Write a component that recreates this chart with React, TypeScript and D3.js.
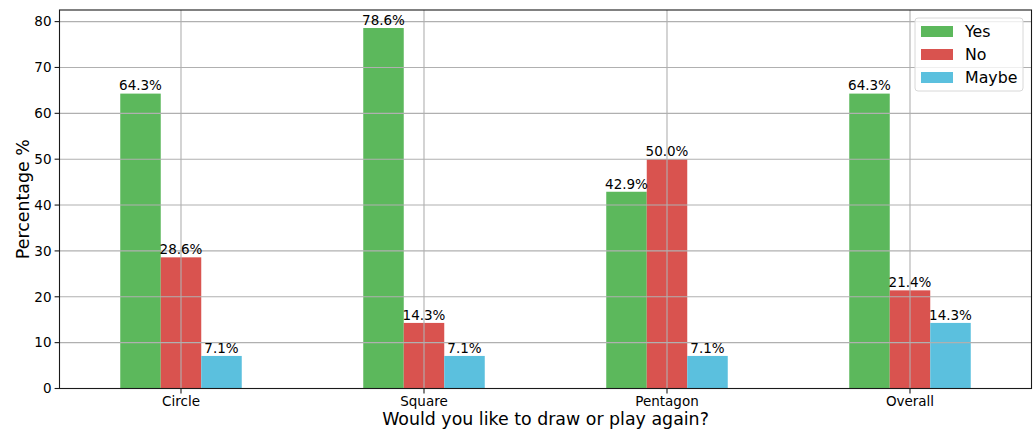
import React from "react";
import * as d3 from "d3";

const categories = ["Circle", "Square", "Pentagon", "Overall"];
const seriesNames = ["Yes", "No", "Maybe"];
const yesValues = [64.3, 78.6, 42.9, 64.3];
const noValues = [28.6, 14.3, 50.0, 21.4];
const maybeValues = [7.1, 7.1, 7.1, 14.3];
const yTicks = [0, 10, 20, 30, 40, 50, 60, 70, 80];
const colors = ["#5cb85c", "#d9534f", "#5bc0de"];

const W = 1036;
const H = 430;
const M = { left: 59.5, right: 1031.5, top: 10, bottom: 388.5 };
const FONT = "DejaVu Sans, sans-serif";

export default function App() {
  const series = [yesValues, noValues, maybeValues];
  const x = d3.scaleLinear().domain([-0.5, categories.length - 0.5]).range([M.left, M.right]);
  const maxV = d3.max(series.flat()) as number;
  const y = d3.scaleLinear().domain([0, maxV * 1.05]).range([M.bottom, M.top]);
  const bw = 0.5 / series.length;

  return (
    <svg width={W} height={H} style={{ position: "absolute", left: 0, top: 0, background: "#fff" }} fontFamily={FONT}>
      {series.map((vals, si) =>
        vals.map((v, ci) => {
          const x0 = x(ci - 0.25 + si * bw);
          const x1 = x(ci - 0.25 + (si + 1) * bw);
          return (
            <rect key={`b${si}-${ci}`} x={x0} y={y(v)} width={x1 - x0} height={y(0) - y(v)} fill={colors[si]} />
          );
        })
      )}
      {yTicks.map((t) => (
        <line key={`gy${t}`} x1={M.left} x2={M.right} y1={y(t)} y2={y(t)} stroke="#b0b0b0" strokeWidth={1.1} />
      ))}
      {categories.map((c, i) => (
        <line key={`gx${c}`} x1={x(i)} x2={x(i)} y1={M.top} y2={M.bottom} stroke="#b0b0b0" strokeWidth={1.1} />
      ))}
      {series.map((vals, si) =>
        vals.map((v, ci) => (
          <text
            key={`l${si}-${ci}`}
            x={x(ci - 0.25 + (si + 0.5) * bw)}
            y={y(v) - 3.2}
            textAnchor="middle"
            fontSize={13.5}
            fill="#000"
          >
            {v.toFixed(1) + "%"}
          </text>
        ))
      )}
      <rect x={M.left} y={M.top} width={M.right - M.left} height={M.bottom - M.top} fill="none" stroke="#1a1a1a" strokeWidth={1.1} />
      {yTicks.map((t) => (
        <g key={`yt${t}`}>
          <line x1={M.left - 4.9} x2={M.left} y1={y(t)} y2={y(t)} stroke="#1a1a1a" strokeWidth={1.1} />
          <text x={M.left - 8} y={y(t)} dy="0.36em" textAnchor="end" fontSize={13.5} fill="#000">
            {t}
          </text>
        </g>
      ))}
      {categories.map((c, i) => (
        <g key={`xt${c}`}>
          <line x1={x(i)} x2={x(i)} y1={M.bottom} y2={M.bottom + 4.9} stroke="#1a1a1a" strokeWidth={1.1} />
          <text x={x(i)} y={M.bottom + 17} textAnchor="middle" fontSize={13.5} fill="#000">
            {c}
          </text>
        </g>
      ))}
      <text x={(M.left + M.right) / 2} y={425} textAnchor="middle" fontSize={17.4} fill="#000">
        Would you like to draw or play again?
      </text>
      <text transform={`translate(29,${(M.top + M.bottom) / 2}) rotate(-90)`} textAnchor="middle" fontSize={17.4} fill="#000">
        Percentage %
      </text>
      <g transform="translate(915,18)">
        <rect x={0} y={0} width={108} height={73} rx={3} fill="#fff" fillOpacity={0.8} stroke="#d8d8d8" strokeWidth={1} />
        {seriesNames.map((n, i) => (
          <g key={`lg${n}`} transform={`translate(0,${13 + i * 23})`}>
            <rect x={6} y={-5} width={32} height={11} fill={colors[i]} />
            <text x={50} y={0} dy="0.36em" fontSize={15.8} fill="#000">
              {n}
            </text>
          </g>
        ))}
      </g>
    </svg>
  );
}
